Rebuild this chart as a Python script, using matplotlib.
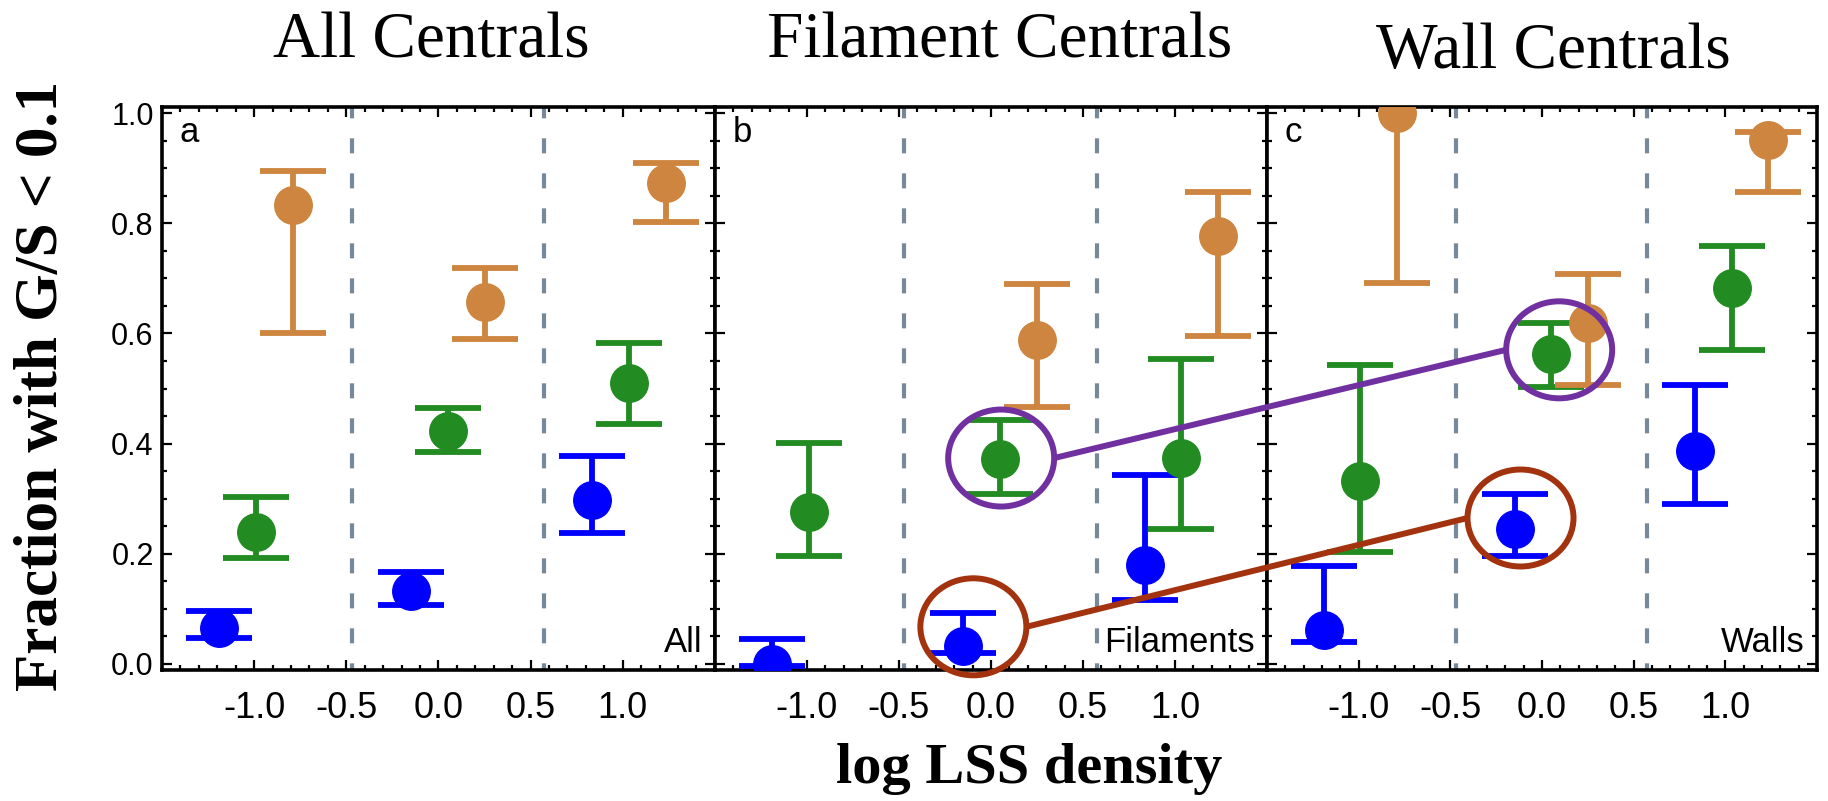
import numpy as np
import matplotlib
matplotlib.use("Agg")
import matplotlib.pyplot as plt
from matplotlib.patches import Ellipse
from matplotlib.lines import Line2D
from matplotlib.ticker import MultipleLocator, FixedLocator, FormatStrFormatter

plt.rcParams["font.family"] = ["Liberation Sans", "DejaVu Sans"]
plt.rcParams["axes.unicode_minus"] = False

nan = np.nan

# log LSS density of each density bin, and the bin boundaries
density_bins = [-0.99, 0.05, 1.035]
bin_edges = [-0.47, 0.575]
x_ticks = [-1.0, -0.5, 0.0, 0.5, 1.0]

panel_titles = ["All Centrals", "Filament Centrals", "Wall Centrals"]
panel_tags = ["a", "b", "c"]
panel_envs = ["All", "Filaments", "Walls"]

# fraction with G/S < 0.1 (one row per panel, one entry per density bin)
low_frac = [[0.065, 0.133, 0.298], [0.000, 0.033, 0.180], [0.062, 0.245, 0.387]]
low_lo = [[0.048, 0.107, 0.237], [-0.004, 0.020, 0.116], [0.040, 0.196, 0.290]]
low_hi = [[0.097, 0.167, 0.378], [0.046, 0.092, 0.343], [0.178, 0.309, 0.506]]

mid_frac = [[0.240, 0.423, 0.510], [0.276, 0.372, 0.374], [0.332, 0.563, 0.682]]
mid_lo = [[0.193, 0.385, 0.436], [0.196, 0.309, 0.245], [0.204, 0.503, 0.570]]
mid_hi = [[0.303, 0.465, 0.582], [0.401, 0.443, 0.553], [0.543, 0.619, 0.759]]

high_frac = [[0.833, 0.657, 0.873], [nan, 0.588, 0.777], [1.000, 0.619, 0.952]]
high_lo = [[0.601, 0.590, 0.802], [nan, 0.466, 0.595], [0.691, 0.506, 0.857]]
high_hi = [[0.895, 0.719, 0.909], [nan, 0.690, 0.857], [1.080, 0.708, 0.966]]

# (values, lower, upper, colour, horizontal shift inside a bin)
samples = [
    (low_frac, low_lo, low_hi, "#0000ff", -0.2),
    (mid_frac, mid_lo, mid_hi, "#228b22", 0.0),
    (high_frac, high_lo, high_hi, "#cd853f", 0.2),
]

# highlighted points: (panel, sample, bin, ring offset in px)
purple = "#7030a0"
rust = "#a3330f"
highlights = [
    ((1, 1, 1, (1, 1)), (2, 1, 1, (8, 4)), purple),
    ((1, 0, 1, (10, 19)), (2, 0, 1, (6, 11)), rust),
]

fig = plt.figure(figsize=(18.28, 8.01), dpi=100)
panel_lefts = [0.0886, 0.3911, 0.6931]
panel_widths = [0.3025, 0.3020, 0.3009]
axes = [fig.add_axes([l, 0.1635, w, 0.7029]) for l, w in zip(panel_lefts, panel_widths)]

for p, ax in enumerate(axes):
    for e in bin_edges:
        ax.axvline(e, color="#778899", lw=3.0, ls=(2, (3.6, 4.8)), zorder=1)

    for frac, lo, hi, colour, dx in samples:
        y = np.array(frac[p], dtype=float)
        yerr = [y - np.array(lo[p]), np.array(hi[p]) - y]
        ax.errorbar(np.array(density_bins) + dx, y, yerr=yerr, fmt="o",
                    color=colour, ms=27, elinewidth=4.2,
                    capsize=24, capthick=4.2, zorder=3)

    ax.set_xlim(-1.5, 1.5)
    ax.set_ylim(-0.011, 1.011)
    ax.xaxis.set_major_locator(FixedLocator(x_ticks))
    ax.xaxis.set_minor_locator(MultipleLocator(0.1))
    ax.yaxis.set_major_locator(MultipleLocator(0.2))
    ax.yaxis.set_minor_locator(MultipleLocator(0.05))
    ax.xaxis.set_major_formatter(FormatStrFormatter("%.1f"))
    ax.yaxis.set_major_formatter(FormatStrFormatter("%.1f"))
    ax.tick_params(which="both", direction="in", top=True, right=True, width=1.6)
    ax.tick_params(which="major", length=7.2)
    ax.tick_params(which="minor", length=3.6)
    ax.tick_params(axis="x", labelsize=26, pad=15)
    ax.tick_params(axis="y", labelsize=22, pad=6, labelleft=(p == 0))
    for s in ax.spines.values():
        s.set_linewidth(2.6)

    ax.text(0.0325, 0.938, panel_tags[p], transform=ax.transAxes,
            ha="left", va="baseline", fontsize=25)
    ax.text(0.978, 0.032, panel_envs[p], transform=ax.transAxes,
            ha="right", va="baseline", fontsize=25)

serif = ["Liberation Serif", "DejaVu Serif"]
title_x = [431, 1000, 1553]
title_base = [58, 58, 68]
for t, x, b in zip(panel_titles, title_x, title_base):
    fig.text(x / 1828, 1 - b / 801, t, ha="center", va="baseline",
             fontsize=47, family=serif)

fig.text(1029 / 1828, 1 - 783 / 801, "log LSS density", ha="center",
         va="baseline", fontsize=42, fontweight="bold", family=serif)
fig.text(42 / 1828, 1 - 386 / 801, "Fraction with G/S < 0.1", ha="center",
         va="center", rotation=90, fontsize=44, fontweight="bold", family=serif)

# rings around the compared points, joined by a line
ring_w, ring_h = 106, 97
for first, second, colour in highlights:
    centres = []
    for p, s, b, off in (first, second):
        frac, _, _, _, dx = samples[s]
        px, py = axes[p].transData.transform((density_bins[b] + dx, frac[p][b]))
        cx, cy = px + off[0], py + off[1]
        centres.append((cx, cy))
        fig.add_artist(Ellipse((cx / 100, cy / 100), ring_w / 100, ring_h / 100,
                               transform=fig.dpi_scale_trans, fill=False,
                               edgecolor=colour, lw=4.3, zorder=10))
    (x0, y0), (x1, y1) = centres
    fig.add_artist(Line2D([(x0 + ring_w / 2) / 100, (x1 - ring_w / 2) / 100],
                          [y0 / 100, y1 / 100], transform=fig.dpi_scale_trans,
                          color=colour, lw=4.3, solid_capstyle="butt", zorder=10))

fig.savefig("out.png", dpi=100)
